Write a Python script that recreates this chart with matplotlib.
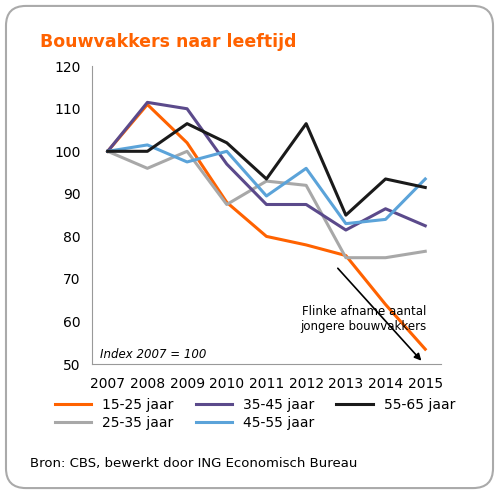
import matplotlib.pyplot as plt
from matplotlib.patches import FancyBboxPatch

years = [2007, 2008, 2009, 2010, 2011, 2012, 2013, 2014, 2015]
s15_25 = [100, 111, 102, 88, 80, 78, 75.5, 64, 53.5]
s25_35 = [100, 96, 100, 87.5, 93, 92, 75, 75, 76.5]
s35_45 = [100, 111.5, 110, 97, 87.5, 87.5, 81.5, 86.5, 82.5]
s45_55 = [100, 101.5, 97.5, 100, 89.5, 96, 83, 84, 93.5]
s55_65 = [100, 100, 106.5, 102, 93.5, 106.5, 85, 93.5, 91.5]
labels = ['15-25 jaar', '25-35 jaar', '35-45 jaar', '45-55 jaar', '55-65 jaar']
colors = ['#FF6200', '#A8A8A8', '#5B4A8B', '#5BA3D9', '#1A1A1A']

fig = plt.figure(figsize=(4.99, 4.94), dpi=100)
fig.patches.append(FancyBboxPatch((0.012, 0.012), 0.976, 0.976, boxstyle="round,pad=0,rounding_size=0.04",
                                  transform=fig.transFigure, fill=False, edgecolor='#AAAAAA', lw=1.5))
ax = fig.add_axes([0.184, 0.263, 0.70, 0.603])
for s, l, c in zip([s15_25, s25_35, s35_45, s45_55, s55_65], labels, colors):
    ax.plot(years, s, color=c, lw=2.2, label=l)
ax.set_ylim(50, 120)
ax.set_xlim(2006.6, 2015.4)
ax.set_xticks(years)
ax.set_yticks(range(50, 121, 10))
ax.tick_params(labelsize=10, length=0)
ax.tick_params(axis='x', pad=9)
ax.tick_params(axis='y', pad=8)
for sp in ['top', 'right']:
    ax.spines[sp].set_visible(False)
ax.spines['left'].set_color('#999999')
ax.spines['bottom'].set_color('#999999')
ax.text(2006.8, 51.5, 'Index 2007 = 100', fontsize=8.5, style='italic')
ax.text(2013.45, 60.5, 'Flinke afname aantal\njongere bouwvakkers', fontsize=8.5, ha='center', va='center')
ax.annotate('', xy=(2014.95, 50.3), xytext=(2012.75, 73),
            arrowprops=dict(arrowstyle='-|>', color='black', lw=1.2))
fig.text(0.08, 0.905, 'Bouwvakkers naar leeftijd', color='#FF6200', fontsize=12.5, fontweight='semibold')
fig.legend(*ax.get_legend_handles_labels(), ncol=3, loc='upper left', bbox_to_anchor=(0.085, 0.22),
           frameon=False, fontsize=10, handlelength=2.6, columnspacing=1.6, labelspacing=0.3)
fig.text(0.06, 0.055, 'Bron: CBS, bewerkt door ING Economisch Bureau', fontsize=9.5)
fig.savefig('out.png', dpi=100)
